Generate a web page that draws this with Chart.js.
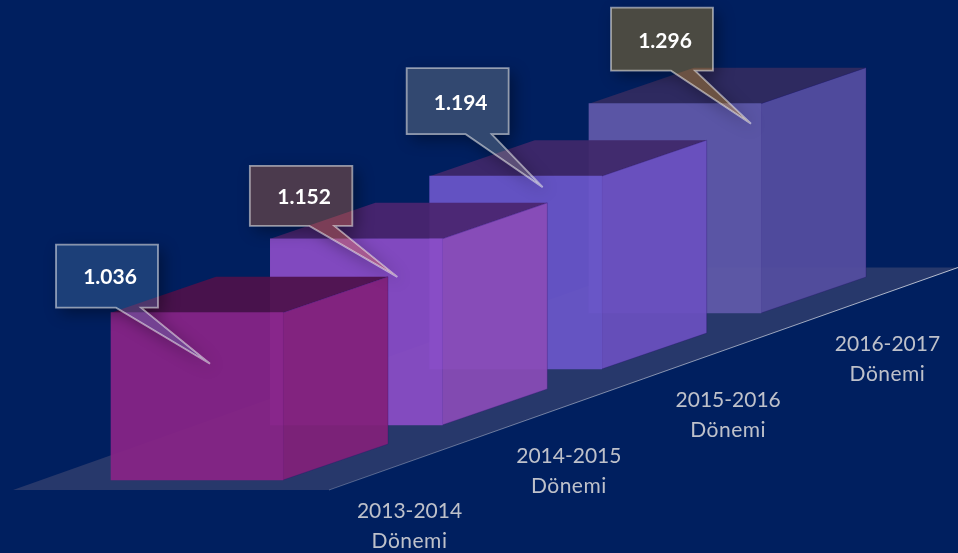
<!DOCTYPE html>
<html lang="tr">
<head>
<meta charset="utf-8">
<script src="https://cdn.jsdelivr.net/npm/chart.js@4"></script>
<style>
html,body{margin:0;padding:0;background:#001f5f;overflow:hidden}
canvas{display:block}
</style>
</head>
<body>
<canvas id="c" width="958" height="553"></canvas>
<script>
// --- data ---
const categories = [["2013-2014","Dönemi"],["2014-2015","Dönemi"],["2015-2016","Dönemi"],["2016-2017","Dönemi"]];
const values = [1036, 1152, 1194, 1296];
// each bar stands further up the receding floor, expressed in value units
const floorRise = [0, 341, 687, 1034];

// --- styles ---
const frontColors = ["rgba(137,35,134,.93)","rgba(139,76,198,.93)","rgba(106,86,201,.93)","rgba(97,89,170,.93)"];
const sideColors  = ["rgba(130,32,122,.93)","rgba(138,75,183,.93)","rgba(107,80,191,.93)","rgba(85,78,160,.93)"];
const topColors   = ["rgba(77,17,74,.93)","rgba(74,37,111,.93)","rgba(63,40,105,.93)","rgba(49,43,96,.93)"];
const calloutFills = ["rgba(93,138,178,.3)","rgba(247,121,38,.3)","rgba(167,168,152,.3)","rgba(250,174,0,.3)"];
const depth = {x:105, y:-36};
// callout geometry relative to the top-left corner of each bar's front face
const calloutLayout = [
  {l:-55,  t:-68, r:47,  b:-5,  a:5,   c:30,  tipX:99,  tipY:51, textY:-35},
  {l:-20.5,t:-73, r:82,  b:-13, a:39,  c:64,  tipX:127, tipY:38, textY:-42},
  {l:-23,  t:-108,r:79,  b:-42, a:36,  c:62,  tipX:113, tipY:11, textY:-73},
  {l:22,   t:-96, r:124, b:-33, a:82,  c:106, tipX:162, tipY:20, textY:-62}
];
const labelFont = '21px Lato, "Open Sans", sans-serif';
const valueFont = 'bold 21px Lato, "Open Sans", sans-serif';

function face(ctx, pts, fill, stroke){
  ctx.beginPath();
  pts.forEach((p,i)=> i ? ctx.lineTo(p[0],p[1]) : ctx.moveTo(p[0],p[1]));
  ctx.closePath();
  ctx.fillStyle = fill; ctx.fill();
  if(stroke){ ctx.strokeStyle = stroke; ctx.lineWidth = 1; ctx.stroke(); }
}

const scene = {
  id:'scene',
  beforeDatasetsDraw(chart){
    const {ctx,scales:{y}} = chart;
    const W = chart.width, bottom = y.getPixelForValue(0)+10, top = 267.5;
    ctx.save();
    ctx.fillStyle = '#001f5f';
    ctx.fillRect(0,0,W,chart.height);
    face(ctx,[[13,bottom],[329,bottom],[W,top],[640,top]],'#27386b');
    const g = ctx.createLinearGradient(329,bottom,W,top);
    g.addColorStop(0,'rgba(255,255,255,.25)');
    g.addColorStop(1,'rgba(255,255,255,.7)');
    ctx.strokeStyle = g; ctx.lineWidth = 1;
    ctx.beginPath(); ctx.moveTo(329,bottom); ctx.lineTo(W,top); ctx.stroke();
    ctx.restore();
  },
  beforeDatasetDraw(chart,args){
    const {ctx} = chart;
    const els = args.meta.data;
    // back-to-front so that nearer boxes overlap the farther ones
    for(let i=els.length-1;i>=0;i--){
      const b = els[i].getProps(['x','y','base','width'],true);
      const L = b.x-b.width/2, R = b.x+b.width/2, T = b.y, B = b.base;
      ctx.save();
      face(ctx,[[L,T],[R,T],[R+depth.x,T+depth.y],[L+depth.x,T+depth.y]],topColors[i]);
      face(ctx,[[R,T],[R+depth.x,T+depth.y],[R+depth.x,B+depth.y],[R,B]],sideColors[i],'rgba(40,20,110,.3)');
      ctx.restore();
      els[i].draw(ctx);
    }
    return false;
  },
  afterDatasetsDraw(chart){
    const {ctx,scales:{x,y}} = chart;
    const els = chart.getDatasetMeta(0).data;
    ctx.save();
    // period labels in front of the floor
    ctx.font = labelFont; ctx.fillStyle = '#bec1ca';
    ctx.textAlign = 'center'; ctx.textBaseline = 'middle';
    categories.forEach((lines,i)=>{
      const cx = x.getPixelForValue(i)+212.5, by = y.getPixelForValue(floorRise[i]);
      lines.forEach((t,k)=>{
        ctx.letterSpacing = k ? '0.5px' : '0px';
        ctx.fillText(t,cx,by+31.5+k*29.5);
      });
    });
    ctx.letterSpacing = '0px';
    // value callouts
    ctx.miterLimit = 3;
    values.forEach((v,i)=>{
      const e = els[i].getProps(['x','y','width'],true);
      const X = e.x-e.width/2, Y = e.y, c = calloutLayout[i];
      const path = new Path2D();
      path.moveTo(X+c.l,Y+c.t); path.lineTo(X+c.r,Y+c.t); path.lineTo(X+c.r,Y+c.b);
      path.lineTo(X+c.c,Y+c.b); path.lineTo(X+c.tipX,Y+c.tipY); path.lineTo(X+c.a,Y+c.b);
      path.lineTo(X+c.l,Y+c.b); path.closePath();
      // soft shadow outside the translucent shape
      ctx.save();
      const clip = new Path2D(); clip.rect(0,0,chart.width,chart.height); clip.addPath(path);
      ctx.clip(clip,'evenodd');
      ctx.shadowColor='rgba(0,0,0,.38)'; ctx.shadowBlur=16; ctx.shadowOffsetX=5; ctx.shadowOffsetY=5;
      ctx.fillStyle='#000'; ctx.fill(path);
      ctx.restore();
      ctx.fillStyle = calloutFills[i]; ctx.fill(path);
      ctx.strokeStyle='rgba(255,255,255,.52)'; ctx.lineWidth=1.8; ctx.stroke(path);
      ctx.font = valueFont; ctx.fillStyle='#fff';
      ctx.fillText((v/1000).toFixed(3), X+(c.l+c.r)/2+3, Y+c.textY);
    });
    ctx.restore();
  }
};

new Chart(document.getElementById('c'),{
  type:'bar',
  data:{
    labels:categories,
    datasets:[{
      data:values.map((v,i)=>[floorRise[i],floorRise[i]+v]),
      backgroundColor:frontColors,
      borderWidth:0,
      barThickness:172
    }]
  },
  options:{
    responsive:false,
    animation:false,
    layout:{padding:{left:117.35,right:203.35,top:0,bottom:73}},
    plugins:{legend:{display:false},tooltip:{enabled:false},title:{display:false}},
    scales:{
      x:{display:false},
      y:{display:false,min:0,max:2972}
    }
  },
  plugins:[scene]
});
</script>
</body>
</html>
